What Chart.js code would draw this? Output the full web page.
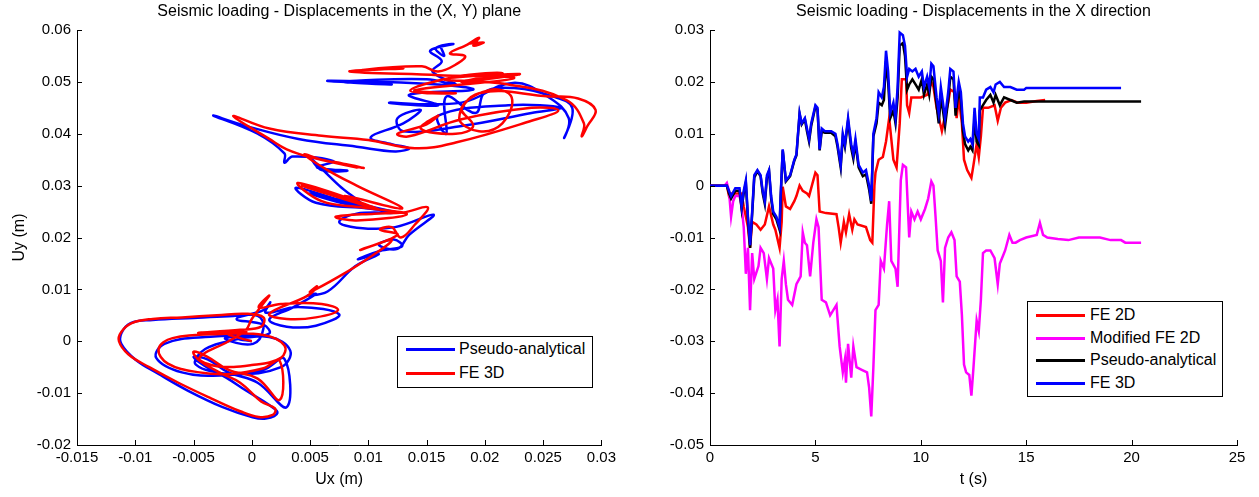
<!DOCTYPE html>
<html>
<head>
<meta charset="utf-8">
<script src="https://cdn.jsdelivr.net/npm/chart.js@4.4.0/dist/chart.umd.min.js"></script>
<style>
  body { margin: 0; background: #fff; }
  #wrap { position: relative; width: 1259px; height: 497px; font-family: "Liberation Sans", Arial, sans-serif; }
  .panel { position: absolute; top: 0; height: 497px; }
  .legend { position: absolute; border: 1px solid #000; background: #fff; box-sizing: border-box; }
  .legend .row { position: absolute; left: 0; right: 0; height: 20px; }
  .legend .line { position: absolute; height: 3px; top: 9px; }
  .legend .txt { position: absolute; font-size: 16px; line-height: 20px; top: 0; color: #000; white-space: nowrap; }
</style>
</head>
<body>
<div id="wrap">
  <div class="panel" style="left:0;width:620px"><canvas id="planGraph"></canvas></div>
  <div class="panel" style="left:620px;width:639px"><canvas id="dirXGraph"></canvas></div>
  <div class="legend" id="planLegend" style="left:397px;top:336px;width:196px;height:52px"></div>
  <div class="legend" id="dirXLegend" style="left:1027px;top:301px;width:196px;height:96px"></div>
</div>
<script>
// ---- Displacements in the (X, Y) plane : [Ux, Uy] (m)
const pseudoXY = [
  [0,0],[-0.0012,0.0005],[-0.0006,0.0010],[-0.0023,0.0005],[0.0001,-0.0005],[0.0010,0.0025],
  [0.0005,0.0049],[-0.0020,0.0048],[-0.0050,0.0045],[-0.0085,0.0041],[-0.0104,0.0035],[-0.0112,0.0015],
  [-0.0112,-0.0005],[-0.0100,-0.0035],[-0.0080,-0.0063],[-0.0055,-0.0095],[-0.0025,-0.0127],[0.0000,-0.0146],
  [0.0012,-0.0149],[0.0022,-0.0138],[0.0015,-0.0123],[-0.0005,-0.0095],[-0.0022,-0.0070],[-0.0040,-0.0048],
  [-0.0050,-0.0030],[-0.0038,-0.0035],[-0.0020,-0.0060],[0.0005,-0.0080],[0.0030,-0.0127],[0.0028,-0.0034],
  [0.0010,-0.0055],[-0.0026,-0.0066],[-0.0060,-0.0060],[-0.0082,-0.0032],[-0.0075,-0.0005],[-0.0040,0.0008],
  [0.0015,0.0008],[0.0033,-0.0018],[0.0025,-0.0050],[-0.0015,-0.0063],[-0.0048,-0.0045],[-0.0040,-0.0015],
  [-0.0010,0.0005],[0.0015,0.0015],[0.0010,0.0032],[-0.0013,0.0043],[0.0010,0.0060],[0.0016,0.0075],
  [0.0012,0.0055],[0.0040,0.0066],[0.0075,0.0052],[0.0055,0.0030],[0.0030,0.0028],[0.0015,0.0042],
  [0.0035,0.0065],[0.0055,0.0091],[0.0048,0.0088],[0.0065,0.0096],[0.0089,0.0145],[0.0109,0.0168],
  [0.0091,0.0158],[0.0110,0.0174],[0.0129,0.0183],[0.0122,0.0196],[0.0109,0.0186],[0.0125,0.0178],
  [0.0135,0.0205],[0.0156,0.0244],[0.0123,0.0220],[0.0090,0.0219],[0.0075,0.0230],[0.0090,0.0246],
  [0.0123,0.0248],[0.0100,0.0256],[0.0055,0.0267],[0.0038,0.0296],[0.0079,0.0270],[0.0123,0.0249],
  [0.0050,0.0285],[0.0095,0.0260],[0.0075,0.0300],[0.0052,0.0350],[0.0060,0.0330],[0.0082,0.0329],
  [0.0056,0.0335],[0.0070,0.0347],[0.0035,0.0356],[0.0028,0.0344],[0.0028,0.0362],[0.0005,0.0400],
  [-0.0033,0.0435],[-0.0005,0.0415],[0.0040,0.0390],[0.0090,0.0375],[0.0123,0.0366],[0.0135,0.0372],
  [0.0120,0.0380],[0.0102,0.0393],[0.0130,0.0420],[0.0145,0.0446],[0.0125,0.0430],[0.0130,0.0405],
  [0.0180,0.0415],[0.0240,0.0440],[0.0265,0.0450],[0.0220,0.0455],[0.0160,0.0435],[0.0167,0.0400],
  [0.0167,0.0472],[0.0192,0.0440],[0.0200,0.0480],[0.0225,0.0488],[0.0258,0.0472],[0.0275,0.0450],
  [0.0268,0.0392],[0.0272,0.0430],[0.0255,0.0470],[0.0224,0.0498],[0.0180,0.0460],[0.0118,0.0460],
  [0.0160,0.0455],[0.0135,0.0475],[0.0190,0.0485],[0.0153,0.0496],[0.0065,0.0502],[0.0120,0.0495],
  [0.0080,0.0500],[0.0150,0.0505],[0.0175,0.0495],[0.0155,0.0520],[0.0163,0.0540],[0.0153,0.0560],
  [0.0173,0.0573],[0.0158,0.0565],[0.0165,0.0550],[0.0162,0.0568]
];
const fe3dXY = [
  [0,0],[-0.0010,0.0006],[-0.0020,0.0014],[-0.0005,0.0018],[-0.0046,0.0016],[-0.0010,0.0022],
  [0.0008,0.0028],[0.0010,0.0046],[-0.0005,0.0053],[-0.0030,0.0050],[-0.0060,0.0046],[-0.0085,0.0043],
  [-0.0103,0.0035],[-0.0112,0.0018],[-0.0114,0.0000],[-0.0106,-0.0025],[-0.0088,-0.0050],[-0.0063,-0.0080],
  [-0.0035,-0.0110],[-0.0010,-0.0135],[0.0006,-0.0146],[0.0018,-0.0142],[0.0020,-0.0130],[0.0008,-0.0116],
  [-0.0010,-0.0080],[-0.0028,-0.0060],[-0.0046,-0.0035],[-0.0050,-0.0020],[-0.0038,-0.0030],[-0.0020,-0.0055],
  [0.0005,-0.0072],[0.0024,-0.0113],[0.0024,-0.0038],[0.0010,-0.0052],[-0.0018,-0.0063],[-0.0045,-0.0060],
  [-0.0072,-0.0043],[-0.0080,-0.0015],[-0.0068,0.0006],[-0.0026,0.0014],[0.0010,0.0012],[0.0028,-0.0008],
  [0.0025,-0.0032],[0.0000,-0.0046],[-0.0030,-0.0048],[-0.0045,-0.0032],[-0.0020,0.0000],[-0.0005,0.0022],
  [0.0000,0.0043],[0.0015,0.0088],[0.0006,0.0065],[0.0025,0.0072],[0.0060,0.0072],[0.0074,0.0060],
  [0.0055,0.0046],[0.0030,0.0043],[0.0015,0.0053],[0.0048,0.0088],[0.0056,0.0106],[0.0050,0.0095],
  [0.0075,0.0125],[0.0100,0.0160],[0.0120,0.0195],[0.0093,0.0176],[0.0125,0.0205],[0.0110,0.0215],
  [0.0120,0.0220],[0.0128,0.0200],[0.0140,0.0225],[0.0151,0.0258],[0.0130,0.0248],[0.0105,0.0246],
  [0.0072,0.0240],[0.0090,0.0233],[0.0133,0.0245],[0.0095,0.0258],[0.0060,0.0270],[0.0040,0.0305],
  [0.0109,0.0254],[0.0043,0.0300],[0.0100,0.0260],[0.0080,0.0280],[0.0129,0.0256],[0.0090,0.0300],
  [0.0065,0.0330],[0.0045,0.0360],[0.0060,0.0350],[0.0096,0.0334],[0.0070,0.0346],[0.0090,0.0335],
  [0.0050,0.0355],[0.0030,0.0370],[0.0015,0.0390],[-0.0016,0.0434],[0.0015,0.0410],[0.0060,0.0396],
  [0.0100,0.0388],[0.0140,0.0372],[0.0175,0.0383],[0.0240,0.0425],[0.0263,0.0445],[0.0240,0.0450],
  [0.0180,0.0428],[0.0135,0.0395],[0.0125,0.0400],[0.0150,0.0418],[0.0160,0.0435],[0.0145,0.0410],
  [0.0175,0.0400],[0.0190,0.0415],[0.0180,0.0450],[0.0205,0.0485],[0.0223,0.0470],[0.0215,0.0420],
  [0.0195,0.0405],[0.0178,0.0430],[0.0195,0.0478],[0.0255,0.0472],[0.0280,0.0468],[0.0295,0.0446],
  [0.0288,0.0415],[0.0283,0.0395],[0.0285,0.0420],[0.0270,0.0465],[0.0220,0.0495],[0.0165,0.0505],
  [0.0230,0.0515],[0.0180,0.0500],[0.0215,0.0517],[0.0175,0.0510],[0.0136,0.0483],[0.0175,0.0478],
  [0.0140,0.0484],[0.0225,0.0507],[0.0160,0.0513],[0.0084,0.0520],[0.0130,0.0526],[0.0095,0.0523],
  [0.0146,0.0530],[0.0160,0.0520],[0.0177,0.0536],[0.0183,0.0550],[0.0170,0.0555],[0.0185,0.0572],
  [0.0195,0.0585],[0.0190,0.0570],[0.0199,0.0576],[0.0187,0.0574]
];
const planXTicks = [-0.015, 0.03, 0.005];   // min, max, step
const planYTicks = [-0.02, 0.06, 0.01];

// ---- Displacements in the X direction : [t (s), Ux (m)]
const fe2dT = [
  [0,0],[0.8,0],[0.9,-0.002],[1.0,-0.0015],[1.5,-0.0015],[1.6,-0.004],[1.8,-0.008],[1.9,-0.012],
  [2.0,-0.007],[2.2,-0.0075],[2.4,-0.0085],[2.6,-0.0075],[2.8,-0.004],[3.0,-0.0075],[3.1,-0.0085],
  [3.3,-0.012],[3.4,-0.007],[3.45,-0.0002],[3.6,-0.004],[3.8,-0.0045],[4.0,-0.003],[4.1,-0.002],
  [4.25,0.0],[4.4,-0.001],[4.6,-0.0015],[4.7,-0.002],[4.9,0.001],[5.0,0.0025],[5.1,0.002],[5.2,-0.005],
  [5.5,-0.0053],[6.0,-0.0055],[6.1,-0.008],[6.2,-0.011],[6.35,-0.007],[6.45,-0.009],[6.6,-0.0055],
  [6.75,-0.0085],[6.85,-0.0065],[7.0,-0.0075],[7.4,-0.008],[7.6,-0.0105],[7.7,-0.011],[7.8,0.0],
  [7.85,0.0025],[8.0,0.005],[8.2,0.0055],[8.35,0.0085],[8.5,0.013],[8.6,0.009],[8.7,0.005],
  [8.85,0.0035],[9.0,0.012],[9.1,0.0205],[9.3,0.0205],[9.35,0.0155],[9.45,0.014],[9.55,0.017],
  [10.0,0.017],[10.3,0.0175],[10.5,0.02],[10.6,0.019],[10.75,0.015],[11.0,0.0105],[11.1,0.0125],
  [11.3,0.016],[11.4,0.0185],[11.6,0.018],[11.7,0.013],[11.8,0.017],[11.95,0.012],[12.05,0.005],
  [12.2,0.003],[12.4,0.0015],[12.5,0.004],[12.65,0.008],[12.75,0.0055],[12.85,0.0095],[12.95,0.015],
  [13.2,0.015],[13.5,0.0155],[13.65,0.0125],[13.8,0.015],[14.0,0.016],[14.3,0.0165],[14.6,0.016],
  [15.0,0.016],[15.5,0.0163],[15.9,0.0165]
];
const modFe2dT = [
  [0,0],[0.7,0],[0.8,0.0005],[0.9,-0.001],[1.0,-0.006],[1.1,-0.003],[1.2,-0.002],[1.4,-0.002],
  [1.5,-0.004],[1.6,-0.008],[1.7,-0.017],[1.8,-0.012],[1.9,-0.024],[2.0,-0.013],[2.1,-0.018],
  [2.3,-0.0155],[2.4,-0.012],[2.55,-0.013],[2.7,-0.018],[2.8,-0.014],[3.0,-0.016],[3.1,-0.024],
  [3.2,-0.022],[3.3,-0.031],[3.4,-0.018],[3.5,-0.0145],[3.6,-0.019],[3.7,-0.022],[3.9,-0.023],
  [4.1,-0.019],[4.3,-0.0175],[4.4,-0.009],[4.5,-0.011],[4.6,-0.0115],[4.75,-0.0175],[4.9,-0.011],
  [5.05,-0.0065],[5.15,-0.008],[5.3,-0.022],[5.5,-0.0225],[5.7,-0.025],[6.0,-0.023],[6.15,-0.031],
  [6.3,-0.036],[6.4,-0.0335],[6.45,-0.038],[6.55,-0.0305],[6.7,-0.037],[6.8,-0.031],[6.95,-0.035],
  [7.2,-0.0355],[7.45,-0.036],[7.55,-0.039],[7.65,-0.0445],[7.75,-0.035],[7.85,-0.024],[8.0,-0.023],
  [8.1,-0.0145],[8.25,-0.016],[8.4,-0.0075],[8.5,-0.003],[8.6,-0.0145],[8.8,-0.016],[8.9,-0.0195],
  [9.05,0.001],[9.15,0.004],[9.3,0.0035],[9.45,-0.01],[9.55,-0.005],[9.7,-0.0065],[9.85,-0.005],
  [10.0,-0.0065],[10.2,-0.0045],[10.35,-0.0025],[10.5,0.0008],[10.6,0.0],[10.7,-0.006],[10.8,-0.0125],
  [10.95,-0.0145],[11.05,-0.0225],[11.15,-0.012],[11.3,-0.010],[11.45,-0.009],[11.6,-0.0105],
  [11.7,-0.0175],[11.85,-0.0185],[11.95,-0.025],[12.05,-0.0345],[12.15,-0.036],[12.3,-0.0365],
  [12.4,-0.0405],[12.5,-0.035],[12.65,-0.026],[12.75,-0.028],[12.85,-0.022],[12.95,-0.013],
  [13.1,-0.0125],[13.3,-0.0125],[13.5,-0.014],[13.65,-0.019],[13.75,-0.015],[13.9,-0.0135],
  [14.0,-0.0125],[14.2,-0.0095],[14.35,-0.011],[14.5,-0.011],[14.7,-0.0105],[15.0,-0.010],
  [15.5,-0.0095],[15.65,-0.0072],[15.8,-0.0095],[16.0,-0.010],[16.5,-0.0103],[17.0,-0.0105],
  [17.5,-0.010],[18.5,-0.010],[19.0,-0.0105],[19.5,-0.0105],[19.7,-0.011],[20.45,-0.011]
];
const pseudoT = [
  [0,0],[0.8,0],[0.9,-0.0015],[1.0,-0.0025],[1.2,-0.001],[1.4,-0.001],[1.5,-0.0045],[1.6,-0.0015],
  [1.7,0.0005],[1.8,-0.0065],[1.9,-0.012],[2.0,-0.0055],[2.1,0.0015],[2.25,0.0028],[2.4,0.0018],
  [2.5,-0.0015],[2.6,-0.0035],[2.7,0.0015],[2.8,0.0028],[2.9,-0.0025],[3.0,-0.0055],[3.15,-0.0065],
  [3.3,-0.0085],[3.35,-0.0025],[3.45,0.0068],[3.5,0.0048],[3.6,0.0008],[3.8,0.0018],[4.0,0.0048],
  [4.1,0.0058],[4.25,0.0138],[4.35,0.0118],[4.5,0.0128],[4.6,0.0105],[4.7,0.0085],[4.8,0.0115],
  [5.0,0.0152],[5.1,0.0147],[5.2,0.0068],[5.3,0.0105],[5.45,0.0102],[5.75,0.0102],[5.95,0.0095],
  [6.05,0.0075],[6.2,0.0035],[6.3,0.0095],[6.4,0.0075],[6.55,0.0125],[6.7,0.0072],[6.8,0.0052],
  [6.9,0.0082],[7.05,0.0035],[7.25,0.0018],[7.4,0.0022],[7.55,-0.0008],[7.65,-0.0035],[7.75,0.0095],
  [7.9,0.012],[8.0,0.016],[8.15,0.0155],[8.25,0.0165],[8.35,0.024],[8.45,0.02],[8.55,0.013],
  [8.7,0.0145],[8.8,0.012],[8.9,0.017],[9.0,0.027],[9.15,0.0275],[9.25,0.025],[9.35,0.0185],
  [9.45,0.0195],[9.6,0.0205],[9.75,0.0195],[9.9,0.0185],[10.05,0.0205],[10.15,0.0175],[10.3,0.0195],
  [10.4,0.0175],[10.5,0.021],[10.6,0.0205],[10.75,0.0155],[10.85,0.012],[10.95,0.017],[11.05,0.0145],
  [11.15,0.0115],[11.3,0.0165],[11.4,0.021],[11.55,0.0205],[11.65,0.0135],[11.8,0.0185],[11.9,0.0165],
  [12.0,0.0105],[12.1,0.008],[12.25,0.0068],[12.35,0.0075],[12.45,0.0068],[12.55,0.013],[12.65,0.0085],
  [12.75,0.0078],[12.8,0.0145],[12.95,0.0155],[13.1,0.0165],[13.3,0.0175],[13.45,0.016],[13.55,0.0175],
  [13.75,0.0155],[13.95,0.017],[14.25,0.0165],[14.55,0.016],[14.9,0.0162],[15.5,0.0162],[20.45,0.0162]
];
const fe3dT = [
  [0,0],[0.8,0],[0.9,-0.001],[1.0,-0.002],[1.2,-0.0005],[1.4,-0.0005],[1.5,-0.004],[1.6,-0.001],
  [1.7,0.001],[1.8,-0.006],[1.9,-0.0115],[2.0,-0.005],[2.1,0.002],[2.25,0.003],[2.4,0.002],
  [2.5,-0.001],[2.6,-0.003],[2.7,0.002],[2.8,0.003],[2.9,-0.002],[3.0,-0.005],[3.15,-0.006],
  [3.3,-0.008],[3.35,-0.002],[3.45,0.007],[3.5,0.005],[3.6,0.001],[3.8,0.002],[4.0,0.005],
  [4.1,0.006],[4.25,0.014],[4.35,0.012],[4.5,0.013],[4.6,0.011],[4.7,0.009],[4.8,0.012],
  [5.0,0.0155],[5.1,0.015],[5.2,0.007],[5.3,0.011],[5.45,0.0105],[5.75,0.0105],[5.95,0.010],
  [6.05,0.008],[6.2,0.004],[6.3,0.010],[6.4,0.008],[6.55,0.013],[6.7,0.008],[6.8,0.006],
  [6.9,0.009],[7.05,0.004],[7.25,0.0025],[7.4,0.003],[7.55,0.0],[7.65,-0.003],[7.75,0.010],
  [7.9,0.013],[8.0,0.018],[8.15,0.017],[8.25,0.019],[8.35,0.026],[8.45,0.022],[8.55,0.014],
  [8.7,0.016],[8.8,0.013],[8.9,0.019],[9.0,0.0295],[9.15,0.029],[9.25,0.027],[9.35,0.021],
  [9.45,0.0225],[9.6,0.022],[9.75,0.0225],[9.9,0.021],[10.05,0.022],[10.15,0.019],[10.3,0.021],
  [10.4,0.019],[10.5,0.0235],[10.6,0.023],[10.75,0.017],[10.85,0.014],[10.95,0.019],[11.05,0.016],
  [11.15,0.013],[11.3,0.018],[11.4,0.0225],[11.55,0.022],[11.65,0.015],[11.8,0.020],[11.9,0.018],
  [12.0,0.012],[12.1,0.0095],[12.25,0.0085],[12.35,0.009],[12.45,0.008],[12.55,0.015],[12.65,0.010],
  [12.75,0.009],[12.8,0.017],[12.95,0.017],[13.1,0.0185],[13.3,0.019],[13.45,0.018],[13.55,0.0195],
  [13.75,0.020],[13.95,0.019],[14.25,0.019],[14.55,0.0185],[14.9,0.0185],[15.0,0.0188],[19.5,0.0188]
];
const dirXTTicks = [0, 25, 5];
const dirXUTicks = [-0.05, 0.03, 0.01];

const FONT = '"Liberation Sans", Arial, sans-serif';
Chart.defaults.font.family = FONT;
Chart.defaults.color = "#000";

const toPts = arr => arr.map(p => ({x: p[0], y: p[1]}));
const fmt = v => { const r = Math.round(v * 1000) / 1000; return r === 0 ? "0" : String(r); };

// MATLAB style ticks pointing into the plot
const inwardTicks = {
  id: "inwardTicks",
  afterDraw(chart) {
    const {ctx, chartArea, scales} = chart;
    ctx.save();
    ctx.strokeStyle = "#000";
    ctx.lineWidth = 1;
    ctx.beginPath();
    scales.x.ticks.forEach(t => {
      const px = Math.round(scales.x.getPixelForValue(t.value)) + 0.5;
      ctx.moveTo(px, chartArea.bottom);
      ctx.lineTo(px, chartArea.bottom - 5);
    });
    scales.y.ticks.forEach(t => {
      const py = Math.round(scales.y.getPixelForValue(t.value)) + 0.5;
      ctx.moveTo(chartArea.left, py);
      ctx.lineTo(chartArea.left + 5, py);
    });
    ctx.stroke();
    ctx.restore();
  }
};

function makeOptions(title, xTitle, yTitle, xt, yt, yWidth, padRight) {
  return {
    responsive: true,
    maintainAspectRatio: false,
    animation: false,
    layout: {padding: {left: 0, right: padRight, top: 0, bottom: 0}},
    plugins: {
      legend: {display: false},
      tooltip: {enabled: false},
      title: {
        display: true, text: title, fullSize: false,
        font: {size: 16, weight: "normal"}, color: "#000",
        padding: {top: 2, bottom: 8.8}
      }
    },
    scales: {
      x: {
        type: "linear", min: xt[0], max: xt[1],
        ticks: {stepSize: xt[2], callback: fmt, font: {size: 15}, padding: 4, autoSkip: false, maxRotation: 0, color: "#000"},
        grid: {display: false, drawTicks: false},
        border: {display: true, color: "#000", width: 1},
        title: {display: true, text: xTitle, font: {size: 16}, color: "#000", padding: {top: 0, bottom: 8}},
        afterFit: s => { s.height = 52; }
      },
      y: {
        type: "linear", min: yt[0], max: yt[1],
        ticks: {stepSize: yt[2], callback: fmt, font: {size: 15}, padding: 6, autoSkip: false, color: "#000"},
        grid: {display: false, drawTicks: false},
        border: {display: true, color: "#000", width: 1},
        title: {display: !!yTitle, text: yTitle, font: {size: 16}, color: "#000", padding: {top: 10.4, bottom: 0}},
        afterFit: s => { s.width = yWidth; }
      }
    }
  };
}

const lineDs = (label, pts, color, order, tension) => ({
  label: label, data: toPts(pts), borderColor: color, backgroundColor: color,
  showLine: true, pointRadius: 0, borderWidth: 2.5, tension: tension, order: order
});

const planChart = new Chart(document.getElementById("planGraph"), {
  type: "scatter",
  data: {
    datasets: [
      lineDs("Pseudo-analytical", pseudoXY, "#0000ff", 1, 0.4),
      lineDs("FE 3D", fe3dXY, "#ff0000", 0, 0.4)
    ]
  },
  options: makeOptions("Seismic loading - Displacements in the (X, Y) plane", "Ux (m)", "Uy (m)",
    planXTicks, planYTicks, 77, 14),
  plugins: [inwardTicks]
});

const dirXChart = new Chart(document.getElementById("dirXGraph"), {
  type: "scatter",
  data: {
    datasets: [
      lineDs("FE 2D", fe2dT, "#ff0000", 3, 0),
      lineDs("Modified FE 2D", modFe2dT, "#ff00ff", 2, 0),
      lineDs("Pseudo-analytical", pseudoT, "#000000", 1, 0),
      lineDs("FE 3D", fe3dT, "#0000ff", 0, 0)
    ]
  },
  options: makeOptions("Seismic loading - Displacements in the X direction", "t (s)", "",
    dirXTTicks, dirXUTicks, 90, 22),
  plugins: [inwardTicks]
});

// legend boxes built from the datasets
function buildLegend(id, chart, rowTop, rowStep, lineX, lineW, textX) {
  const box = document.getElementById(id);
  chart.data.datasets.forEach((ds, i) => {
    const row = document.createElement("div");
    row.className = "row";
    row.style.top = Math.round(rowTop + i * rowStep) + "px";
    const ln = document.createElement("div");
    ln.className = "line";
    ln.style.left = lineX + "px";
    ln.style.width = lineW + "px";
    ln.style.background = ds.borderColor;
    const tx = document.createElement("div");
    tx.className = "txt";
    tx.style.left = textX + "px";
    tx.textContent = ds.label;
    row.appendChild(ln);
    row.appendChild(tx);
    box.appendChild(row);
  });
}
buildLegend("planLegend", planChart, 2, 24, 8, 49, 61);
buildLegend("dirXLegend", dirXChart, 3, 22.6, 8, 49, 62);
</script>
</body>
</html>
